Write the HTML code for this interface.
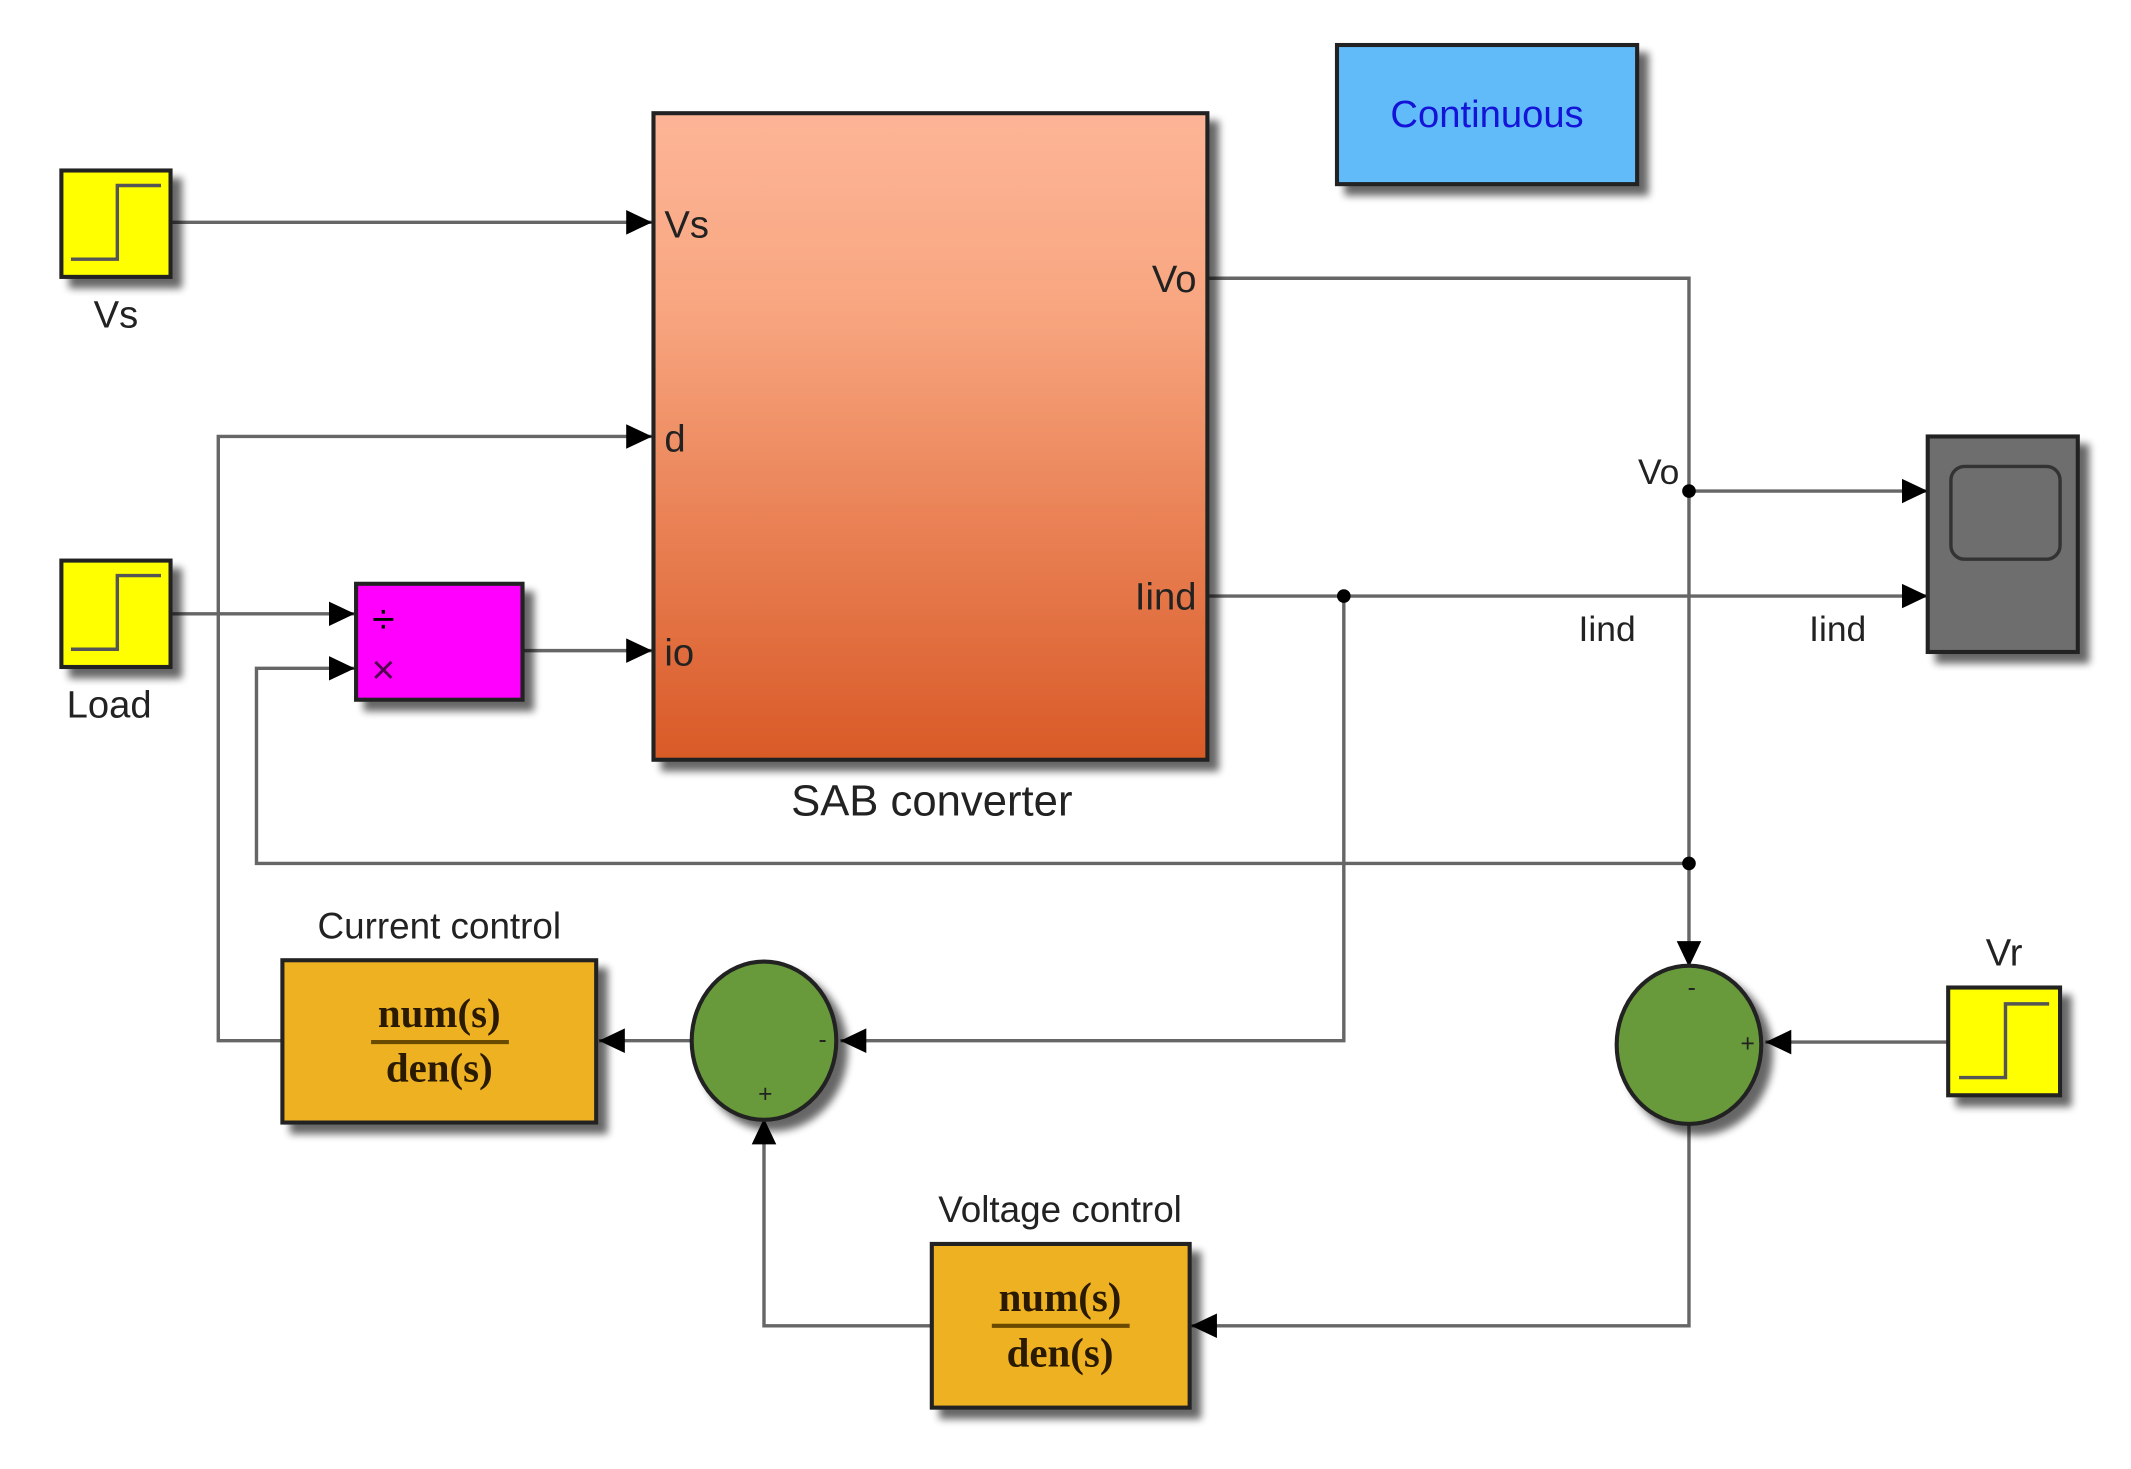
<!DOCTYPE html>
<html><head><meta charset="utf-8"><style>
html,body{margin:0;padding:0;background:#fff;}
svg{display:block;}
text{font-family:"Liberation Sans",sans-serif;fill:#222;}
.serif{font-family:"Liberation Serif",serif;font-weight:bold;fill:#2a1a00;}
</style></head><body>
<svg width="2131" height="1469" viewBox="0 0 1562 1077" preserveAspectRatio="none" xmlns="http://www.w3.org/2000/svg">
<defs>
<linearGradient id="sab" x1="0" y1="0" x2="0" y2="1">
<stop offset="0" stop-color="#fdb597"/>
<stop offset="0.3" stop-color="#f8a680"/>
<stop offset="1" stop-color="#d95a27"/>
</linearGradient>
<filter id="sh" x="-20%" y="-20%" width="150%" height="150%">
<feGaussianBlur in="SourceAlpha" stdDeviation="3"/>
<feOffset dx="7" dy="7" result="b"/>
<feComponentTransfer><feFuncA type="linear" slope="0.6"/></feComponentTransfer>
<feMerge><feMergeNode/><feMergeNode in="SourceGraphic"/></feMerge>
</filter>
<marker id="ar2" markerWidth="20" markerHeight="20" refX="19" refY="10" orient="auto" markerUnits="userSpaceOnUse">
<path d="M0,1 L19,10 L0,19 Z" fill="#000"/>
</marker>
</defs>

<g stroke="#666" stroke-width="2.5" fill="none">
<path d="M125,163 H478" marker-end="url(#ar2)"/>
<path d="M207,763 H160 V320 H478" marker-end="url(#ar2)"/>
<path d="M125,450 H260" marker-end="url(#ar2)"/>
<path d="M1238,633 H188 V490 H260" marker-end="url(#ar2)"/>
<path d="M383,477 H478" marker-end="url(#ar2)"/>
<path d="M885,204 H1238 V709" marker-end="url(#ar2)"/>
<path d="M1238,360 H1413" marker-end="url(#ar2)"/>
<path d="M885,437 H1413" marker-end="url(#ar2)"/>
<path d="M985,437 V763 H616" marker-end="url(#ar2)"/>
<path d="M507,763 H439" marker-end="url(#ar2)"/>
<path d="M1428,764 H1294" marker-end="url(#ar2)"/>
<path d="M1238,824 V972 H873" marker-end="url(#ar2)"/>
<path d="M683,972 H560 V820" marker-end="url(#ar2)"/>
</g>
<g fill="#000">
<circle cx="985" cy="437" r="5"/>
<circle cx="1238" cy="360" r="5"/>
<circle cx="1238" cy="633" r="5"/>
</g>

<g filter="url(#sh)" stroke="#222" stroke-width="3">
<rect x="45" y="125" width="80" height="78" fill="#ffff00"/>
<rect x="45" y="411" width="80" height="78" fill="#ffff00"/>
<rect x="1428" y="724" width="82" height="79" fill="#ffff00"/>
<rect x="479" y="83" width="406" height="474" fill="url(#sab)"/>
<rect x="980" y="33" width="220" height="102" fill="#62bbf9"/>
<rect x="261" y="428" width="122" height="85" fill="#ff00ff"/>
<rect x="1413" y="320" width="110" height="158" fill="#6e6e6e"/>
<rect x="207" y="704" width="230" height="119" fill="#eeb121"/>
<rect x="683" y="912" width="189" height="120" fill="#eeb121"/>
<ellipse cx="560" cy="763" rx="53" ry="58" fill="#679a3b"/>
<ellipse cx="1238" cy="766" rx="53" ry="58" fill="#679a3b"/>
</g>
<rect x="1430" y="342" width="80" height="68" rx="10" fill="#6e6e6e" stroke="#333" stroke-width="2.5"/>
<g stroke="#555" stroke-width="2.5" fill="none">
<path d="M52,190 H86 V136 H118"/>
<path d="M52,476 H86 V422 H118"/>
<path d="M1436,790 H1470 V736 H1502"/>
</g>

<text x="85" y="240" font-size="28" text-anchor="middle">Vs</text>
<text x="80" y="526" font-size="28" text-anchor="middle">Load</text>
<text x="1469" y="708" font-size="28" text-anchor="middle">Vr</text>
<text x="487" y="174" font-size="28">Vs</text>
<text x="487" y="331" font-size="28">d</text>
<text x="487" y="488" font-size="28">io</text>
<text x="877" y="214" font-size="28" text-anchor="end">Vo</text>
<text x="877" y="447" font-size="28" text-anchor="end">Iind</text>
<text x="683" y="598" font-size="32" text-anchor="middle">SAB converter</text>
<text x="1090" y="93" font-size="28" text-anchor="middle" style="fill:#1414d8">Continuous</text>
<text x="1231" y="355" font-size="26" text-anchor="end">Vo</text>
<text x="1178" y="470" font-size="26" text-anchor="middle">Iind</text>
<text x="1347" y="470" font-size="26" text-anchor="middle">Iind</text>
<text x="322" y="688" font-size="27" text-anchor="middle">Current control</text>
<text x="777" y="896" font-size="27" text-anchor="middle">Voltage control</text>
<text x="281" y="464" font-size="30" text-anchor="middle" style="fill:#000">÷</text>
<text x="281" y="501" font-size="30" text-anchor="middle" style="fill:#500050">×</text>
<text class="serif" x="322" y="753" font-size="30" text-anchor="middle">num(s)</text>
<line x1="272" y1="764" x2="373" y2="764" stroke="#6a4a00" stroke-width="3"/>
<text class="serif" x="322" y="793" font-size="30" text-anchor="middle">den(s)</text>
<text class="serif" x="777" y="961" font-size="30" text-anchor="middle">num(s)</text>
<line x1="727" y1="972" x2="828" y2="972" stroke="#6a4a00" stroke-width="3"/>
<text class="serif" x="777" y="1002" font-size="30" text-anchor="middle">den(s)</text>
<text x="603" y="768" font-size="18" text-anchor="middle">-</text>
<text x="561" y="808" font-size="18" text-anchor="middle">+</text>
<text x="1240" y="730" font-size="18" text-anchor="middle">-</text>
<text x="1281" y="771" font-size="18" text-anchor="middle">+</text>
</svg>
</body></html>
